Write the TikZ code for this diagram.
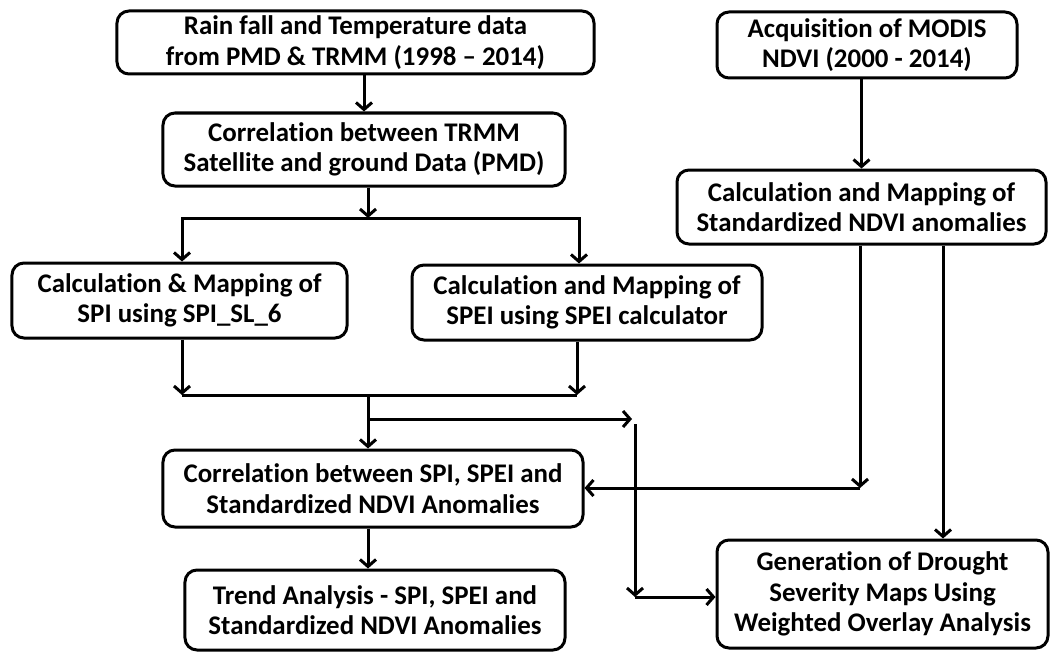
\documentclass[tikz,border=0pt]{standalone}
\usepackage{fontspec}
\setmainfont{Carlito}[Ligatures={TeX,NoCommon}]
\usetikzlibrary{positioning,arrows.meta}
\tikzset{
	box/.style = {
		draw = black,
		fill = white,
		rectangle,
		line width = 3bp,
		rounded corners = 12bp,
		align = center,
		inner sep = 0pt,
		font = \fontsize{27}{30.5}\selectfont\bfseries
	},
	flow/.style = {
		line width = 3bp
	},
	>={Straight Barb[length=7bp,width=16bp]}
}
\begin{document}
\begin{tikzpicture}[x=1bp, y=-1bp]
    \useasboundingbox (0,0) rectangle (1051,653) ;

    \node [box, minimum width = 477bp, minimum height = 63bp] at (355.5,42.5) (rain) {Rain fall and Temperature data\\from PMD \& TRMM (1998 -- 2014)} ;
    \node [box, minimum width = 402bp, minimum height = 73bp, below = 36bp of rain, xshift = 8.5bp] (trmm) {Correlation between TRMM\\Satellite and ground Data (PMD)} ;
    \node [box, minimum width = 335bp, minimum height = 75bp] at (179.5,300.5) (spi) {Calculation \& Mapping of\\SPI using SPI\_SL\_6} ;
    \node [box, minimum width = 350bp, minimum height = 75bp] at (587,302.5) (spei) {Calculation and Mapping of\\SPEI using SPEI calculator} ;
    \node [box, minimum width = 420bp, minimum height = 77bp] at (373,488.5) (corr) {Correlation between SPI, SPEI and\\Standardized NDVI Anomalies} ;
    \node [box, minimum width = 380bp, minimum height = 80bp, below = 40bp of corr, xshift = 2bp] (trend) {Trend Analysis - SPI, SPEI and\\Standardized NDVI Anomalies} ;
    \node [box, minimum width = 300bp, minimum height = 66bp] at (867,45) (modis) {Acquisition of MODIS\\NDVI (2000 - 2014)} ;
    \node [box, minimum width = 369bp, minimum height = 74bp, below = 89bp of modis, xshift = -5.5bp] (anom) {Calculation and Mapping of\\Standardized NDVI anomalies} ;
    \node [box, minimum width = 331bp, minimum height = 108bp] at (882.5,594) (gen) {Generation of Drought\\Severity Maps Using\\Weighted Overlay Analysis} ;

    \coordinate (split) at (368,218) ;
    \coordinate (merge) at (368,395) ;
    \coordinate (fork) at (368,419) ;
    \coordinate (gap) at (632,419) ;
    \coordinate (drop) at (635,424) ;
    \coordinate (turn) at (635,597) ;
    \coordinate (join) at (860,488) ;

    \draw [flow, ->] (trmm.north |- rain.south) -- (trmm.north) ;
    \draw [flow, ->] (split |- trmm.south) -- (split) ;
    \draw [flow, <->] ([xshift=2.5bp]spi.north) |- (split) -| ([xshift=-8bp]spei.north) ;
    \draw [flow, ->] ([xshift=2.5bp]spi.south) -- ([xshift=2.5bp]spi.south |- merge) ;
    \draw [flow, ->] ([xshift=-10bp]spei.south) -- ([xshift=-10bp]spei.south |- merge) ;
    \draw [flow] ([xshift=2.5bp]spi.south |- merge) -- ([xshift=-10bp]spei.south |- merge) ;
    \draw [flow, ->] (merge) -- (merge |- corr.north) ;
    \draw [flow, ->] (fork) -- (gap) ;
    \draw [flow, ->] (drop) -- (turn) ;
    \draw [flow, ->] (turn) -- (gen.west |- turn) ;
    \draw [flow, ->] (corr.south -| merge) -- (merge |- trend.north) ;
    \draw [flow, ->] (modis.south -| anom.north) -- (anom.north) ;
    \draw [flow, ->] (anom.south -| join) -- (join) ;
    \draw [flow, ->] (join) -- (corr.east |- join) ;
    \draw [flow, ->] ([xshift=81.5bp]anom.south) -- ([xshift=81.5bp]anom.south |- gen.north) ;
\end{tikzpicture}
\end{document}
